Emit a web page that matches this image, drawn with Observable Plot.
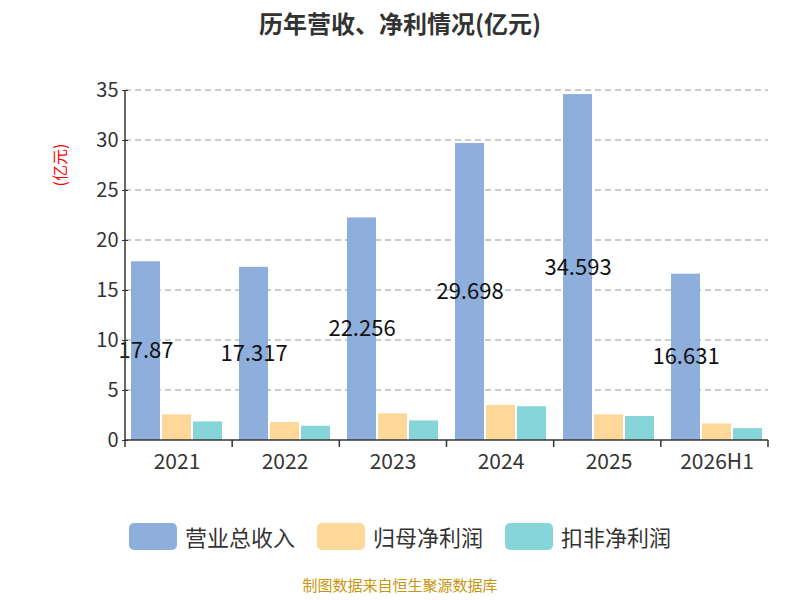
<!DOCTYPE html>
<html><head><meta charset="utf-8">
<script src="https://cdn.jsdelivr.net/npm/d3@7"></script>
<script src="https://cdn.jsdelivr.net/npm/@observablehq/plot@0.6"></script>
<style>
body{margin:0;width:800px;font-family:"Noto Sans CJK SC","Noto Sans",sans-serif;background:#fff}
#title{text-align:center;font-size:24px;font-weight:bold;color:#333;height:50px;line-height:46px}
#legend{display:flex;justify-content:center;gap:22px;margin-top:20px;font-size:22px;color:#333}
#legend span{display:flex;align-items:center;gap:8px}
#legend i{display:inline-block;width:48px;height:27px;border-radius:5px}
#cap{text-align:center;color:#c8960c;font-size:15px;margin-top:22px}
</style></head><body>
<div id="title">历年营收、净利情况(亿元)</div>
<div id="chart"></div>
<div id="legend"></div>
<div id="cap">制图数据来自恒生聚源数据库</div>
<script>
const years=["2021","2022","2023","2024","2025","2026H1"];
const series=["营业总收入","归母净利润","扣非净利润"];
const colors=["#8eaedb","#fed898","#86d5d9"];
const revenue=[17.87,17.317,22.256,29.698,34.593,16.631];
const netProfit=[2.57,1.79,2.67,3.51,2.57,1.66];
const deductedProfit=[1.86,1.42,1.96,3.38,2.40,1.18];
const vals=[revenue,netProfit,deductedProfit];
const data=[];
years.forEach((y,i)=>series.forEach((s,j)=>data.push({year:y,series:s,value:vals[j][i]})));
const labels=years.map((y,i)=>({year:y,series:series[0],value:revenue[i],label:String(revenue[i])}));
const ticks=d3.range(0,36,5);
const plot=Plot.plot({
  width:800,height:450,marginLeft:125,marginRight:32,marginTop:40,marginBottom:60,
  style:{fontSize:"20px",color:"#333",fontFamily:"Noto Sans CJK SC, Noto Sans, sans-serif"},
  fx:{domain:years,padding:0.1,label:null,axis:"bottom",tickSize:0,tickPadding:14},
  x:{domain:series,axis:null,padding:0.06},
  y:{domain:[0,35],ticks:ticks,label:null},
  color:{domain:series,range:colors},
  marks:[
    Plot.axisY({ticks:ticks,tickSize:6,tickPadding:4,fontSize:20,label:null}),
    Plot.barY(data,{fx:"year",x:"series",y:"value",fill:"series"}),
    Plot.text(labels,{fx:"year",x:"series",y:d=>d.value/2,text:"label",fontSize:22,fill:"#111"})
  ]
});
document.getElementById("chart").appendChild(plot);
const svg=d3.select(plot);
svg.selectAll("g[aria-label='fx-axis tick label'] text, g[aria-label='fx-axis tick label']").attr("font-size",21);
const ys=plot.scale("y");
ticks.filter(t=>t>0).forEach(t=>{const y=ys.apply(t);svg.insert("line",":first-child").attr("x1",125).attr("x2",768).attr("y1",y).attr("y2",y).attr("stroke","#bbb").attr("stroke-width",1.3).attr("stroke-dasharray","6,4");});
svg.append("text").attr("transform","translate(66,115) rotate(-90)").attr("text-anchor","middle").attr("fill","red").attr("font-size",16).text("(亿元)");
svg.append("line").attr("x1",125).attr("x2",125).attr("y1",40).attr("y2",390).attr("stroke","#333").attr("stroke-width",1.5);
svg.append("line").attr("x1",125).attr("x2",768).attr("y1",390).attr("y2",390).attr("stroke","#333").attr("stroke-width",1.5);
const step=(800-125-32)/6;
for(let k=0;k<=6;k++){const x=125+k*step;svg.append("line").attr("x1",x).attr("x2",x).attr("y1",390).attr("y2",397).attr("stroke","#333").attr("stroke-width",1.5);}
const lg=document.getElementById("legend");
series.forEach((s,j)=>{lg.innerHTML+=`<span><i style="background:${colors[j]}"></i>${s}</span>`;});
</script></body></html>
